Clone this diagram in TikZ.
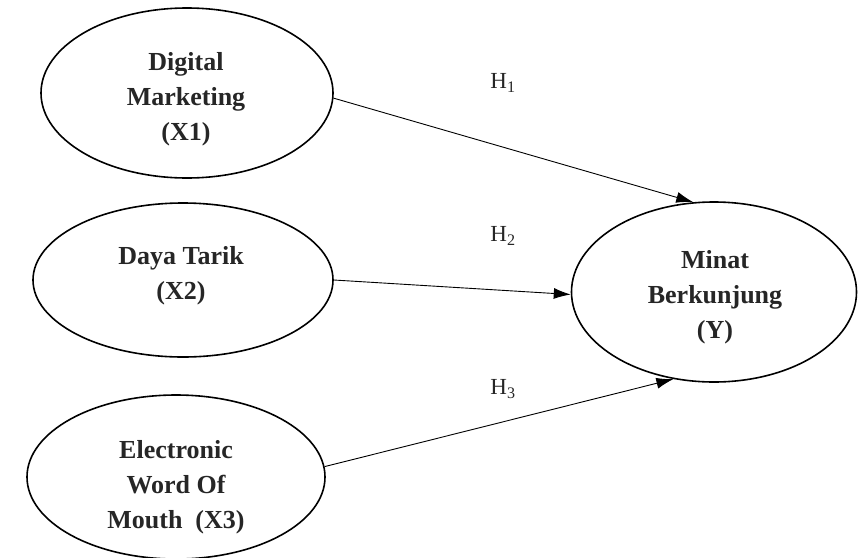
\documentclass[tikz,border=0pt]{standalone}
\usepackage{fontspec}
\setmainfont{Liberation Serif}
\usetikzlibrary{shapes.geometric,arrows.meta}
\begin{document}
\begin{tikzpicture}[x=1pt,y=-1pt,
  var/.style={ellipse, draw, line width=1.6pt, inner sep=0pt},
  vartext/.style={align=center, inner sep=0pt,
    font=\fontsize{26}{35}\selectfont\bfseries, text=black!85},
  hyp/.style={font=\fontsize{23}{27}\selectfont, text=black!85},
  link/.style={-{Latex[length=17pt,width=11pt]}, line width=0.9pt}]
\useasboundingbox (0,0) rectangle (861,557);
\clip (0,0) rectangle (861,557);
\fill[white] (0,0) rectangle (861,557);
\node[var, minimum width=292pt, minimum height=170pt] (x1) at (187,93) {};
\node[var, minimum width=300pt, minimum height=154pt] (x2) at (183,280) {};
\node[var, minimum width=298pt, minimum height=164pt] (x3) at (176,477) {};
\node[var, minimum width=285pt, minimum height=180pt] (y) at (714,292) {};
\node[vartext] (x1t) at (186,99) {Digital\\Marketing\\(X1)};
\node[vartext] (x2t) at (181,276) {Daya Tarik\\(X2)};
\node[vartext] (x3t) at (176,487) {Electronic\\Word Of\\Mouth\ \ (X3)};
\node[vartext] (yt) at (715,297) {Minat\\Berkunjung\\(Y)};
\node[hyp] (h1) at (503,83) {H\textsubscript{1}};
\node[hyp] (h2) at (503,236) {H\textsubscript{2}};
\node[hyp] (h3) at (503,389) {H\textsubscript{3}};
\draw[link] (x1.-2) -- (y.103);
\draw[link] (x2.east) -- (y.181);
\draw[link] (x3.4) -- (y.245);
\end{tikzpicture}
\end{document}
